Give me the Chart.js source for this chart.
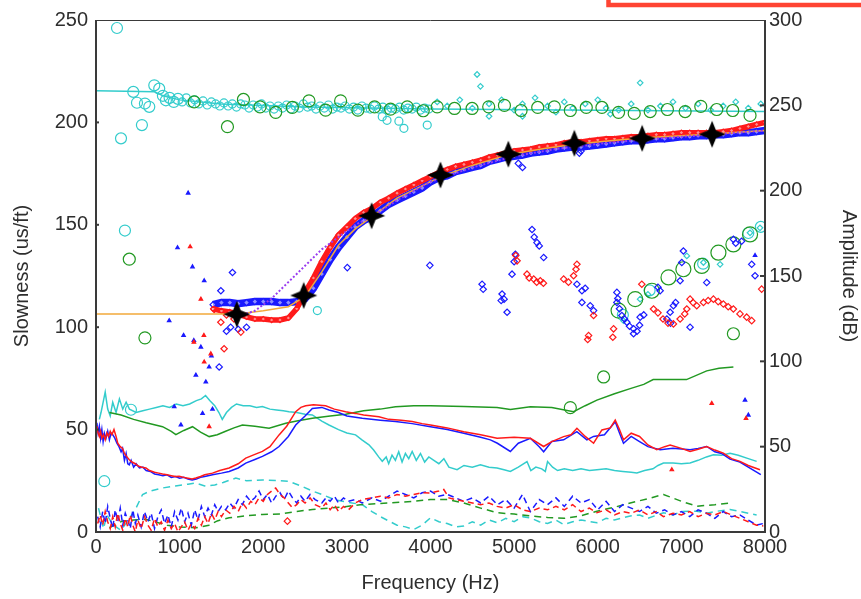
<!DOCTYPE html>
<html>
<head>
<meta charset="utf-8">
<script src="https://cdn.jsdelivr.net/npm/chart.js@4.4.1/dist/chart.umd.min.js"></script>
<style>
  html, body { margin: 0; padding: 0; background: #fff; }
  #wrap { width: 861px; height: 599px; }
</style>
</head>
<body>
<div id="wrap"><canvas id="dispersion" width="861" height="599"></canvas></div>
<script>
// Axis ranges / ticks
const freqTicks = [0, 1000, 2000, 3000, 4000, 5000, 6000, 7000, 8000];
const slownessTicks = [0, 50, 100, 150, 200, 250];
const ampTicks = [0, 50, 100, 150, 200, 250, 300];

// ---- slowness data (us/ft), [freq Hz, slowness] ----
const cyanFit = [[0,215.5],[700,215],[800,213],[1000,211],[1500,209],[2500,207.5],[4000,206.5],[8000,205.3]];

const cyanBig = [[99,24.8],[251,246.1],[299,192.2],[346,147.2],[418,59.7],[446,214.9],[490,209.6],[549,198.7],
  [585,209.2],[637,207.6],[697,218.1],[756,216.5],[800,213],[836,210.8],[880,212],[930,210],[980,211.5],
  [6300,106],[6620,118],[7260,131],[7800,146],[7950,149]];

const cyanSmall = [[1030,210],[1080,212],[1130,209.5],[1180,211],[1230,209],[1280,210.5],[1330,208.5],[1380,210],
  [1430,209],[1480,208],[1530,209.5],[1580,208],[1630,209],[1680,207.5],[1730,209],[1780,208.5],[1830,207],
  [1880,208.5],[1930,207.5],[1980,209],[2030,207],[2080,208],[2130,206.5],[2180,208],[2230,207],[2280,208.5],
  [2330,206.5],[2380,208],[2430,207],[2480,209],[2530,207.5],[2580,208],[2630,206.5],[2680,208],[2730,207],
  [2780,208.5],[2830,206.5],[2880,207.5],[2930,207],[2980,208],[3030,206.5],[3080,207.5],[3130,206],[3180,208],
  [3230,207],[3280,206.5],[3330,208],[3380,206.5],[3430,207.5],[3480,206],[3530,207],[3580,206.5],[3630,207.5],
  [3680,206],[3730,207],[3780,206.5],[3830,207.5],[3880,206],[3930,207],[3980,206.5],
  [3423,202.8],[3480,201],[3622,200.6],[3682,197.1],[3961,198.7],[2647,108.1]];

const cyanDiamonds = [[4080,210],[4200,208],[4350,211],[4500,207],[4557,223.4],[4597,217.6],[4700,209],[4850,211],
  [5000,206],[5100,209],[5250,212],[5400,208],[5500,205],[5600,210],[5700,207],[5850,209],[6000,211],[6100,207],
  [6250,206],[6400,209],[6507,219.3],[6600,206],[6750,208],[6900,210],[7050,207],[7200,209],[7350,206],[7500,208],
  [7650,210],[7800,207],[7950,209],[4700,203],[5100,203],[6150,204],
  [6507,113.7],[6600,116],[7065,134.8],[7264,131.6],[7463,130.7],[7821,146.1],[7940,148.5],[6308,103.2]];

const greenTop = [[1174,210],[1572,197.9],[1763,211.2],[1962,207.6],[2149,204.9],[2348,207.3],[2547,210.5],
  [2746,206],[2925,210.5],[3132,206],[3331,207.6],[3522,206.5],[3722,207.6],[3913,205.7],[4080,207.6],
  [4287,206.8],[4497,206.8],[4696,207.6],[4884,208.3],[5083,205.8],[5282,207.3],[5481,207.6],[5672,205.8],
  [5863,207.3],[6050,207.3],[6249,204.9],[6436,204.4],[6627,205.3],[6833,206.3],[7045,205.3],[7232,207.8],
  [7423,206.3],[7614,205.8],[7821,203.4]];
const greenOutliers = [[398,133.2],[585,94.8],[5672,60.7],[6070,75.7],[7622,96.8]];
const greenRise = [[6249,108.1],[6448,113.7],[6647,117.8],[6846,124.3],[7024,128.3],[7244,129.9],
  [7443,136.4],[7622,140.4],[7821,145.3]];

const blueBand = [[1400,111],[1500,112],[1600,112],[1700,111.5],[1800,112],[1900,112.5],[2000,112.5],[2100,112.5],
  [2200,112],[2300,112],[2400,112.5],[2500,114],[2600,119],[2700,126],[2800,133],[2900,139],[3000,144],[3100,149],
  [3200,152],[3300,154],[3400,157],[3500,160],[3600,162],[3700,164],[3800,166],[3900,168],[4000,171],[4100,173],
  [4200,174],[4300,176],[4400,177],[4500,178],[4600,179],[4700,181],[4800,182],[4900,183],[5000,183.5],[5100,184],
  [5200,185],[5300,185.5],[5400,186],[5500,187],[5600,187.5],[5700,188],[5800,188],[5900,188.5],[6000,189],
  [6100,189.5],[6200,190],[6300,190.5],[6400,191],[6500,191],[6600,191.5],[6700,192],[6800,192],[6900,192.5],
  [7000,193],[7100,193],[7200,193.5],[7300,193.5],[7400,194],[7500,194],[7600,194.5],[7700,195],[7800,195],
  [7900,195.5],[8000,196]];
const redBand = [[1400,109],[1500,108],[1600,107.5],[1700,106.5],[1800,105],[1900,104],[2000,104],[2100,103.5],
  [2200,103.5],[2300,104.5],[2400,109],[2500,117],[2600,124],[2700,132],[2800,139],[2900,145],[3000,149],[3100,153],
  [3200,156],[3300,158],[3400,161],[3500,163],[3600,165.5],[3700,167.5],[3800,169.5],[3900,171.5],[4000,173.5],
  [4100,175.5],[4200,177],[4300,178.5],[4400,179.5],[4500,180.5],[4600,181.5],[4700,183],[4800,184],[4900,185],
  [5000,186],[5100,186.5],[5200,187],[5300,188],[5400,188.5],[5500,189],[5600,190],[5700,190.5],[5800,190.5],
  [5900,191],[6000,191.5],[6100,192],[6200,192],[6300,192.5],[6400,193],[6500,193],[6600,193.5],[6700,194],
  [6800,194],[6900,194.5],[7000,195],[7100,195],[7200,195],[7300,195],[7400,195],[7500,195.5],[7600,196],
  [7700,197],[7800,198],[7900,199],[8000,200]];

const blueScatter = [[3005,129.1],[3992,130.2],[5214,147.7],[5240,144],[5273,141.3],[5300,139.7],[5353,134],
  [5015,135.6],[5000,132],[4975,125.9],[4617,121],[4630,118.5],[4856,116.2],[4845,113],[4880,113.7],[4916,107.3],
  [5751,121],[5811,117.8],[5850,119],[5811,112.1],[5910,110.5],[5950,108.1],[6229,117],[6240,114],[6229,112.1],
  [6260,109],[6288,105.7],[6320,104],[6348,102.4],[6380,100.5],[6428,99.2],[6428,96.8],[6470,98],[6500,101],
  [6507,104.9],[6550,106],[6866,107.3],[6905,110.5],[6930,112],[6826,104],[6870,102],[7104,100],[7303,121.8],
  [7024,137.2],[7005,131.6],[6985,122.7],[6746,117.8],[6720,119.5],[7622,142.9],[7650,141],[7720,142],
  [7841,130.7],[7881,125.1],[1632,126.7],[1493,117.8],[1473,80.6],[1560,98],[1610,100],[1700,99],[1800,100],
  [5050,180],[5100,178],[5780,185],[5800,186]];
const redScatter = [[5035,132.4],[5020,135],[5154,125.9],[5180,124],[5234,123.5],[5270,122],[5313,122.7],
  [5350,121.5],[5751,130.7],[5740,128.3],[5711,125.1],[5592,123.5],[5650,122],[5950,105.7],[5890,95.9],
  [5880,94],[6189,99.2],[6180,95.1],[6527,121],[6667,108.9],[6720,107],[6780,104],[6840,102],[6905,101.6],
  [6985,104],[7040,106.5],[7065,108.9],[7104,113.7],[7140,112],[7184,110.5],[7264,112.1],[7320,113],
  [7383,113.7],[7440,112.5],[7502,111.3],[7560,110],[7622,108.9],[7701,106.5],[7781,104.9],[7841,103.2],
  [7960,118.6],[1532,89.5],[1413,108.7],[1493,102.4],[1560,106],[1650,104],[1732,97.6],[2289,5.3]];

const blueDots = [[1102,165.5],[975,138.8],[1154,129.5],[1294,122.7],[875,103.2],[1047,96],[1170,93.5],
  [1254,90.3],[1380,86],[1353,80.6],[1194,76.6],[1313,73.3],[935,61.2],[1015,52.3],[1274,57.9],[1393,60],
  [7761,64.4],[7801,57.1],[7881,135]];
const redDots = [[1126,139.3],[1254,113.7],[1170,92.7],[1373,87],[1294,83],[1353,51.5],[7363,62.8],
  [7773,55.5],[6886,30.4],[1290,96]];

const orangeFit = [[0,106.5],[1700,106.5],[2000,108],[2300,110],[2500,115],[2700,127],[2900,140],[3100,148],
  [3300,154],[3600,163],[4150,174],[4500,179],[4950,184.5],[5400,187.5],[5750,189.5],[6150,191],[6550,192.5],
  [7000,193.5],[7350,194.3],[8000,196]];
const purpleFit = [[1750,106],[1900,108],[2100,114],[2300,122],[2500,130],[2700,138],[2900,144],[3100,150],
  [3300,154],[3600,162],[4000,171],[4500,178],[5000,183.5],[5500,187],[6000,189.5],[6500,191.5],[7000,193],
  [7500,194.5],[8000,196]];

const picks = [[1684,106.3],[2484,115.5],[3296,154.4],[4119,174.3],[4931,184.5],[5720,189.8],[6531,192.2],[7367,194.2]];

// ---- amplitude data (dB), [freq Hz, dB] ----
const cyanAmp = [[40,66],[60,70],[110,82],[140,72],[170,68],[200,76],[240,70],[280,78],[320,72],[360,76],[400,72],
  [480,70],[560,71],[640,72],[720,73],[800,74],[880,73],[960,75],[1040,74],[1120,75],[1200,77],[1260,78],[1310,80],
  [1360,77],[1420,74],[1470,70],[1510,66],[1560,70],[1620,73],[1680,75],[1760,74],[1840,74],[1920,73],[1990,73.5],
  [2080,72],[2160,71.5],[2240,71],[2308,70.5],[2400,70],[2500,69],[2587,68.6],[2700,65],[2786,62.7],[2900,60],
  [3000,58],[3104,56.9],[3180,54],[3264,51.1],[3320,48],[3380,44],[3423,41.4],[3470,44],[3500,40],[3540,45],
  [3580,42],[3620,47],[3660,41],[3700,46],[3740,43],[3781,47.2],[3830,42],[3880,46],[3930,41],[3980,44],[4040,42],
  [4100,40],[4160,43],[4220,38],[4318,36.5],[4400,39],[4500,38],[4597,39.4],[4700,38],[4796,37.5],[4880,36.5],
  [4955,35.5],[5050,38],[5154,41.3],[5200,36],[5260,38],[5330,37],[5373,35.5],[5400,41.3],[5460,38],[5520,36],
  [5600,37],[5700,36],[5800,37],[5900,36],[5990,36.5],[6100,37],[6200,36],[6300,35.5],[6400,35],[6468,34.6],
  [6560,36],[6660,37],[6720,39],[6786,40.4],[6900,40.5],[7000,40],[7104,40.4],[7200,42],[7300,44],[7383,45.2],
  [7480,45],[7582,46.2],[7680,45],[7800,43],[7900,41.4]];
const greenAmp = [[160,70],[300,68.5],[450,66],[600,64],[796,61.7],[900,59],[955,57],[1050,59.5],[1154,61.7],
  [1250,58.5],[1353,55.9],[1450,57],[1550,59],[1650,61],[1751,62.7],[1900,62],[2070,60.8],[2269,63.7],[2400,65],
  [2587,66.6],[2800,68],[2985,69],[3200,71],[3400,72],[3582,73.4],[3800,74],[4000,74],[4400,73.5],[4796,73],
  [4955,71.8],[5194,73.4],[5450,73],[5711,70.5],[5850,74],[5990,77.3],[6200,81],[6388,84],[6550,86.5],
  [6663,89.3],[7061,89.3],[7303,94.4],[7450,96],[7622,96.7]];
const redAmp = [[10,62],[25,58],[40,56],[55,59],[70,55],[90,57],[110,54],[130,58],[150,56],[170,59],[190,57],
  [215,60],[240,56],[260,52],[290,50],[318,49],[340,46],[370,44],[398,42.3],[430,41],[470,40],[510,38.5],[550,38],
  [597,37.5],[640,36],[700,35],[750,34.5],[796,34],[850,33.5],[900,33],[950,32.5],[995,32.6],[1050,32],[1100,31.5],
  [1150,31],[1194,31.6],[1250,32.5],[1300,33.5],[1393,34.5],[1480,36],[1592,37.5],[1700,40],[1791,43.3],
  [1900,45.5],[1990,47.2],[2080,50],[2189,56.9],[2280,62],[2388,70.5],[2450,73],[2507,74],[2600,74.5],[2746,74],
  [2850,72],[2985,70.5],[3100,69.5],[3200,68.5],[3383,67.5],[3500,66],[3650,65.5],[3781,64.7],[3900,63.5],
  [4000,62.7],[4200,61],[4398,58.8],[4600,57],[4796,54.9],[5000,55.5],[5194,54.9],[5353,50.1],[5450,53],
  [5592,55.9],[5680,57],[5751,60.8],[5850,56],[5950,52],[6050,59.8],[6150,61],[6209,65.6],[6260,60],[6308,54],
  [6400,57.9],[6500,56],[6600,51],[6706,48.2],[6800,50],[6866,51],[7000,49],[7104,47.2],[7200,48.5],[7303,50.1],
  [7400,48],[7502,46.2],[7600,43],[7701,41.4],[7800,39],[7940,36.5]];
const blueAmp = [[10,64],[25,58],[40,62],[55,55],[70,60],[85,53],[100,58],[120,55],[140,59],[160,54],[180,58],
  [200,57],[225,55],[250,52],[275,50],[300,47],[318,49],[340,42],[360,46],[380,40],[398,39.4],[420,42],[450,38],
  [480,40],[520,37.5],[560,38],[600,36],[650,35.5],[700,34],[750,33.5],[800,33],[850,33.5],[900,32],[950,32.5],
  [1000,31.5],[1050,32],[1100,31],[1150,30.5],[1200,31],[1250,32],[1300,32.5],[1393,33.5],[1500,34.5],
  [1592,35.5],[1700,37.5],[1791,40.4],[1900,42.5],[1990,44.3],[2100,47],[2189,50.1],[2300,56],[2388,62.7],
  [2500,68],[2587,72.4],[2700,73],[2786,71.5],[2900,70],[3000,68],[3184,66.6],[3400,65.5],[3582,64.7],
  [3781,63.5],[4000,61.7],[4200,60],[4398,57.9],[4600,55.5],[4716,54],[4800,52],[4955,47.2],[5050,52],
  [5194,54.9],[5300,50],[5353,47],[5450,53],[5592,54],[5750,58.8],[5870,54],[5950,56],[6080,57],[6209,64.6],
  [6260,58],[6308,52],[6400,56],[6500,53],[6600,50],[6746,48.2],[6900,49],[7104,48.2],[7200,49],[7303,50.1],
  [7400,47],[7480,46],[7582,42.7],[7700,41],[7800,38],[7950,33.6]];

const greenNoise = [[160,2.5],[250,5],[318,6.4],[450,7],[597,7.4],[700,6],[850,4],[1000,3],[1200,2.5],[1350,4],
  [1450,6.5],[1592,8.3],[1800,9.5],[1990,10.3],[2200,10.5],[2400,12],[2587,13.2],[2800,14],[3000,15],[3184,16.1],
  [3500,17],[3800,18],[4000,19],[4200,19],[4398,17],[4600,14],[4796,11.3],[5000,10.5],[5194,9.4],[5400,8.5],
  [5600,8],[5800,9.5],[5990,12.2],[6200,14.5],[6388,17],[6600,19.5],[6786,22],[7000,18],[7184,15.1],[7400,16],
  [7582,17]];
const redNoise = [[20,5],[50,10],[80,4],[110,12],[140,6],[170,2],[200,9],[230,3],[260,11],[290,5],[320,1],[350,8],
  [380,3],[410,10],[440,4],[470,0],[500,7],[540,2],[580,9],[620,4],[660,1],[700,8],[740,3],[780,6],[820,1],[860,7],
  [900,2],[940,5],[980,0],[1020,3],[1060,6],[1100,1],[1140,5],[1180,2],[1220,8],[1260,4],[1300,9],[1340,5],
  [1380,11],[1420,7],[1460,12],[1500,9],[1550,13],[1600,11],[1650,15],[1700,12],[1750,17],[1800,14],[1850,18],
  [1900,16],[1950,20],[2000,18],[2050,22],[2100,24],[2149,25.8],[2200,22],[2250,20],[2300,17],[2348,14.2],
  [2400,16],[2450,19],[2500,17],[2560,20],[2620,16],[2700,14.2],[2750,17],[2800,13],[2850,16],[2900,12],
  [2960,15],[3020,13],[3100,17],[3184,19],[3300,20],[3400,21],[3500,20],[3600,22],[3700,21],[3800,22],[3900,23],
  [4000,22.9],[4100,24],[4159,24.9],[4220,20],[4300,19],[4398,18],[4500,17],[4600,16],[4700,17],[4796,15],
  [4900,14],[5000,16],[5100,13],[5194,12],[5300,14],[5400,13],[5500,15],[5600,13],[5700,16],[5800,12],[5900,14],
  [5990,11.3],[6100,13],[6200,10],[6300,12],[6400,11],[6500,13],[6600,10],[6700,12],[6786,9],[6900,11],[7000,10],
  [7100,12],[7200,9],[7300,11],[7400,10],[7500,12],[7600,10],[7700,8],[7800,6],[7900,4],[7980,3.5]];
const blueNoise = [[20,9],[50,3],[80,12],[110,5],[140,15],[170,8],[200,2],[230,13],[260,6],[290,14],[320,4],
  [350,11],[380,7],[410,2],[440,13],[470,5],[500,10],[540,3],[580,12],[620,6],[660,11],[700,2],[740,9],[780,13],
  [820,5],[860,10],[900,3],[940,12],[980,7],[1020,14],[1060,6],[1100,11],[1140,4],[1180,13],[1220,7],[1260,15],
  [1300,9],[1340,14],[1380,10],[1420,16],[1460,12],[1500,15],[1550,13],[1600,17],[1650,14],[1700,19],[1750,16],
  [1800,21],[1850,18],[1900,20],[1950,24],[2000,19],[2050,22],[2100,17],[2150,21],[2200,23],[2250,19],[2300,24],
  [2350,20],[2400,17],[2450,21],[2500,18],[2560,22],[2620,19],[2700,17],[2750,20],[2800,18],[2850,21],[2900,17],
  [2960,20],[3020,18],[3100,19],[3184,17],[3300,20],[3400,18],[3500,21],[3600,24],[3700,22],[3800,20],[3900,23],
  [4000,24],[4100,21],[4200,22],[4300,20],[4398,18],[4500,20],[4600,17],[4700,21],[4800,16],[4900,19],[5000,14],
  [5100,22],[5194,12],[5300,19],[5400,16],[5500,20],[5600,15],[5700,21],[5800,17],[5900,19],[6000,13],[6100,18],
  [6200,12],[6300,16],[6400,14],[6500,12],[6600,15],[6700,11],[6800,13],[6900,10],[7000,12],[7100,9],[7200,13],
  [7300,11],[7400,8],[7500,12],[7600,9],[7700,10],[7800,7],[7900,4],[7980,5]];
const cyanNoise = [[30,14],[60,8],[90,2],[130,10],[180,6],[240,3],[300,1],[400,8],[480,14.2],[557,22],[650,24],
  [796,25.8],[950,27],[1100,28],[1194,28.7],[1300,27],[1420,27.5],[1520,29],[1672,31.6],[1800,30],[1990,30.5],
  [2200,30],[2308,29.7],[2450,27],[2587,24],[2700,22],[2850,19],[3000,17.5],[3184,16],[3300,12],[3400,9],
  [3502,6.4],[3600,4],[3700,3],[3800,1.5],[3900,4],[4000,8.3],[4100,6],[4200,5],[4300,3],[4398,3.5],[4500,6],
  [4600,4],[4700,7],[4796,5.4],[4900,8],[5000,6],[5100,9],[5194,8.3],[5300,6],[5400,5],[5500,7],[5592,4.4],
  [5700,6],[5800,7],[5990,5.4],[6100,8],[6200,7],[6388,9.4],[6500,10],[6600,8],[6786,11.3],[6900,10],[7000,12],
  [7184,12.2],[7300,11],[7400,12],[7582,13.2],[7700,12],[7800,11],[7900,10]];

// colours
const CYAN = '#33cccc', GREEN = '#229922', RED = '#ff1a1a', BLUE = '#1a1aff';
const ORANGE = '#f2a93b', PURPLE = '#9a3cf0', INK = '#2e2e2e';
const FONT = { family: "'Liberation Sans', Arial, sans-serif", size: 20 };

const pts = arr => arr.map(([x, y]) => ({ x, y }));

// filled four-point star used for the picked points
function makeStar(size, inner) {
  const c = document.createElement('canvas');
  c.width = c.height = size;
  const g = c.getContext('2d');
  const m = size / 2, r = size / 2 - 0.5;
  g.beginPath();
  for (let i = 0; i < 8; i++) {
    const a = -Math.PI / 2 + i * Math.PI / 4;
    const rad = i % 2 === 0 ? r : inner;
    const px = m + rad * Math.cos(a), py = m + rad * Math.sin(a);
    i === 0 ? g.moveTo(px, py) : g.lineTo(px, py);
  }
  g.closePath();
  g.fillStyle = '#000';
  g.fill();
  return c;
}
const starImg = makeStar(28, 5.5);

function line(label, data, color, axis, extra) {
  return Object.assign({
    label, data: pts(data), yAxisID: axis, showLine: true, borderColor: color,
    backgroundColor: color, borderWidth: 1.5, pointRadius: 0, tension: 0
  }, extra || {});
}
function marks(label, data, color, style, radius, extra) {
  return Object.assign({
    label, data: pts(data), yAxisID: 'y', showLine: false, pointStyle: style,
    pointRadius: radius, pointBorderColor: color, pointBackgroundColor: 'rgba(255,255,255,0)',
    pointBorderWidth: 1.2, borderColor: color
  }, extra || {});
}

// frame, inward tick marks and the red box in the corner
const framePlugin = {
  id: 'frame',
  afterDraw(chart) {
    const { ctx, chartArea: a, scales } = chart;
    ctx.save();
    ctx.strokeStyle = '#3a3a3a';
    ctx.lineWidth = 1;
    ctx.beginPath(); ctx.moveTo(a.left, a.top + 0.5); ctx.lineTo(a.right, a.top + 0.5); ctx.stroke();
    ctx.lineWidth = 2;
    ctx.beginPath();
    ctx.moveTo(a.left, a.top); ctx.lineTo(a.left, a.bottom);
    ctx.lineTo(a.right, a.bottom); ctx.lineTo(a.right, a.top);
    ctx.stroke();
    slownessTicks.slice(1, -1).forEach(v => {
      const y = scales.y.getPixelForValue(v);
      ctx.beginPath(); ctx.moveTo(a.left, y); ctx.lineTo(a.left + 3, y); ctx.stroke();
    });
    ampTicks.slice(1, -1).forEach(v => {
      const y = scales.y2.getPixelForValue(v);
      ctx.beginPath(); ctx.moveTo(a.right - 5, y); ctx.lineTo(a.right + 1, y); ctx.stroke();
    });
    ctx.strokeStyle = '#ff4433';
    ctx.lineWidth = 4.5;
    ctx.strokeRect(608.5, -60, 400, 65);
    ctx.restore();
  }
};

const datasets = [
  Object.assign(marks('picks', picks, '#000', starImg, 14), { order: 0 }),
  line('purple', purpleFit, PURPLE, 'y', { borderDash: [2, 2], borderWidth: 2, order: 1 }),
  line('orange', orangeFit, ORANGE, 'y', { borderWidth: 1.5, order: 2 }),
  marks('red band pts', redBand, RED, 'rectRot', 2.5, { pointBackgroundColor: 'rgba(255,255,255,0.5)', order: 3 }),
  line('red band', redBand, RED, 'y', { borderWidth: 5.5, order: 4 }),
  marks('blue band pts', blueBand, BLUE, 'rectRot', 3, { pointBackgroundColor: 'rgba(255,255,255,0.5)', order: 5 }),
  line('blue band', blueBand, BLUE, 'y', { borderWidth: 7.5, order: 6 }),
  marks('red scatter', redScatter, RED, 'rectRot', 3.2, { order: 7 }),
  marks('blue scatter', blueScatter, BLUE, 'rectRot', 3.2, { order: 8 }),
  marks('red dots', redDots, RED, 'triangle', 2, { pointBackgroundColor: RED, order: 9 }),
  marks('blue dots', blueDots, BLUE, 'triangle', 2, { pointBackgroundColor: BLUE, order: 10 }),
  marks('green top', greenTop, GREEN, 'circle', 6, { order: 11 }),
  marks('green rise', greenRise, GREEN, 'circle', 7.5, { order: 12 }),
  marks('green other', greenOutliers, GREEN, 'circle', 6, { order: 13 }),
  marks('cyan big', cyanBig, CYAN, 'circle', 5.5, { order: 14 }),
  marks('cyan small', cyanSmall, CYAN, 'circle', 4, { order: 15 }),
  marks('cyan diamonds', cyanDiamonds, CYAN, 'rectRot', 2.8, { order: 16 }),
  line('cyan fit', cyanFit, CYAN, 'y', { order: 17 }),
  line('red amp', redAmp, RED, 'y2', { order: 18 }),
  line('blue amp', blueAmp, BLUE, 'y2', { order: 19 }),
  line('green amp', greenAmp, GREEN, 'y2', { order: 20 }),
  line('cyan amp', cyanAmp, CYAN, 'y2', { order: 21 }),
  line('red noise', redNoise, RED, 'y2', { borderDash: [6, 4], order: 22 }),
  line('blue noise', blueNoise, BLUE, 'y2', { borderDash: [6, 4], order: 23 }),
  line('green noise', greenNoise, GREEN, 'y2', { borderDash: [7, 5], order: 24 }),
  line('cyan noise', cyanNoise, CYAN, 'y2', { borderDash: [7, 5], order: 25 })
];

const plainTick = v => String(v);

new Chart(document.getElementById('dispersion'), {
  type: 'scatter',
  data: { datasets },
  plugins: [framePlugin],
  options: {
    responsive: false,
    animation: false,
    layout: { padding: { top: 16, left: 0, right: 0, bottom: 0 } },
    plugins: { legend: { display: false }, tooltip: { enabled: false } },
    scales: {
      x: {
        type: 'linear', min: 0, max: 8000,
        afterBuildTicks: s => { s.ticks = freqTicks.map(v => ({ value: v })); },
        afterFit: s => { s.height = 67; },
        grid: { display: false, drawTicks: false },
        border: { display: false },
        ticks: { color: INK, font: FONT, padding: 3, maxRotation: 0, autoSkip: false, callback: plainTick },
        title: { display: true, text: 'Frequency (Hz)', color: INK, font: FONT, padding: { top: 0, bottom: 4 } }
      },
      y: {
        type: 'linear', position: 'left', min: 0, max: 250,
        afterBuildTicks: s => { s.ticks = slownessTicks.map(v => ({ value: v })); },
        afterFit: s => { s.width = 96; },
        grid: { display: false, drawTicks: false },
        border: { display: false },
        ticks: { color: INK, font: FONT, padding: 8, callback: plainTick },
        title: { display: true, text: 'Slowness (us/ft)', color: INK, font: FONT, padding: { top: 10, bottom: 0 } }
      },
      y2: {
        type: 'linear', position: 'right', min: 0, max: 300,
        afterBuildTicks: s => { s.ticks = ampTicks.map(v => ({ value: v })); },
        afterFit: s => { s.width = 96; },
        grid: { display: false, drawTicks: false },
        border: { display: false },
        ticks: { color: INK, font: FONT, padding: 4, callback: plainTick },
        title: { display: true, text: 'Amplitude (dB)', color: INK, font: FONT, padding: { top: 0, bottom: 0 } }
      }
    }
  }
});
</script>
</body>
</html>
